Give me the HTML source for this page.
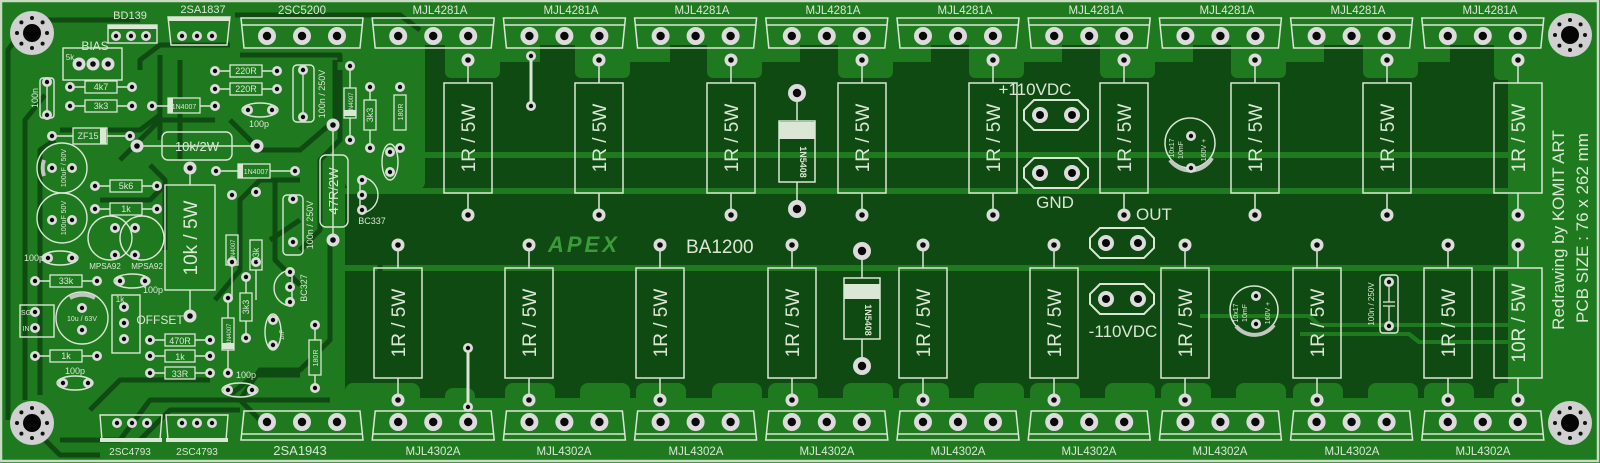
<!DOCTYPE html>
<html><head><meta charset="utf-8"><style>
html,body{margin:0;padding:0;background:#1f7a1f;}
svg{display:block}
text{font-family:"Liberation Sans",sans-serif;fill:#dbe7d5}
</style></head><body>
<svg width="1600" height="463" viewBox="0 0 1600 463" xmlns="http://www.w3.org/2000/svg">
<defs>
  <g id="bp"><circle r="9" fill="#dcdcdc"/><circle r="4.2" fill="#0a0a0a"/></g>
  <g id="sp"><circle r="6.5" fill="#dcdcdc"/><circle r="2.8" fill="#0a0a0a"/></g>
  <g id="xp"><circle r="5" fill="#dcdcdc"/><circle r="2.2" fill="#0a0a0a"/></g>
  <g id="hole"><circle r="22" fill="#d0d0d0"/><circle r="9" fill="#050505"/>
    <circle cx="0" cy="-15" r="2" fill="#111"/><circle cx="0" cy="15" r="2" fill="#111"/><circle cx="-15" cy="0" r="2" fill="#111"/><circle cx="15" cy="0" r="2" fill="#111"/>
    <circle cx="10.6" cy="10.6" r="2" fill="#111"/><circle cx="-10.6" cy="10.6" r="2" fill="#111"/><circle cx="10.6" cy="-10.6" r="2" fill="#111"/><circle cx="-10.6" cy="-10.6" r="2" fill="#111"/></g>
  <g id="tpk">
    <path d="M-61,18 L61,18 L58,48 L-58,48 Z M-60,25 L60,25" fill="none" stroke="#dbe7d5" stroke-width="1.5"/>
    <use href="#bp" x="-35" y="36"/><use href="#bp" x="0" y="36"/><use href="#bp" x="35" y="36"/>
  </g>
  <g id="bpk">
    <path d="M-58,411 L58,411 L61,440 L-61,440 Z M-60,434 L60,434" fill="none" stroke="#dbe7d5" stroke-width="1.5"/>
    <use href="#bp" x="-35" y="422"/><use href="#bp" x="0" y="422"/><use href="#bp" x="35" y="422"/>
  </g>
  <g id="tr">
    <path d="M0,60 V83 M0,193 V215" stroke="#dbe7d5" stroke-width="1.5"/>
    <rect x="-24" y="83" width="48" height="110" fill="none" stroke="#dbe7d5" stroke-width="1.5"/>
    <use href="#sp" x="0" y="60"/><use href="#sp" x="0" y="215"/>
  </g>
  <g id="br">
    <path d="M0,245 V268 M0,378 V400" stroke="#dbe7d5" stroke-width="1.5"/>
    <rect x="-24" y="268" width="48" height="110" fill="none" stroke="#dbe7d5" stroke-width="1.5"/>
    <use href="#sp" x="0" y="245"/><use href="#sp" x="0" y="400"/>
  </g>
  <g id="conn">
    <path d="M-22,-15 H22 L32,-5 V5 L22,15 H-22 L-32,5 V-5 Z" fill="none" stroke="#dbe7d5" stroke-width="2"/>
    <circle cx="-16" r="8" fill="#dcdcdc"/><circle cx="-16" r="4" fill="#050505"/>
    <circle cx="16" r="8" fill="#dcdcdc"/><circle cx="16" r="4" fill="#050505"/>
  </g>
</defs>

<rect width="1600" height="463" fill="#1f7a1f"/>
<path d="M345,62 H1508 V398 H345 Z" fill="#0e4a11"/>
<g fill="#1f7a1f">
  <rect x="445" y="40" width="55" height="38" rx="6"/>
  <rect x="575" y="40" width="55" height="38" rx="6"/>
  <rect x="707" y="40" width="55" height="38" rx="6"/>
  <rect x="838" y="40" width="55" height="38" rx="6"/>
  <rect x="969" y="40" width="55" height="38" rx="6"/>
  <rect x="1100" y="40" width="55" height="38" rx="6"/>
  <rect x="1231" y="40" width="55" height="38" rx="6"/>
  <rect x="1363" y="40" width="55" height="38" rx="6"/>
  <rect x="1494" y="40" width="50" height="40" rx="6"/>
  <rect x="345" y="40" width="80" height="150" rx="8"/>
  <rect x="1508" y="60" width="90" height="345"/>
</g>
<g fill="#0e4a11">
  <rect x="425" y="45" width="20" height="30"/>
  <rect x="540" y="45" width="35" height="30"/>
  <rect x="670" y="45" width="37" height="30"/>
  <rect x="800" y="45" width="38" height="30"/>
  <rect x="931" y="45" width="38" height="30"/>
  <rect x="1062" y="45" width="38" height="30"/>
  <rect x="1193" y="45" width="38" height="30"/>
  <rect x="1324" y="45" width="39" height="30"/>
  <rect x="1450" y="45" width="44" height="25"/>
</g>
<g fill="#1f7a1f">
  <rect x="345" y="383" width="75" height="80" rx="8"/>
  <rect x="445" y="388" width="30" height="75" rx="8"/>
  <rect x="505" y="383" width="50" height="80" rx="8"/>
  <rect x="580" y="383" width="50" height="80" rx="8"/>
  <rect x="636" y="383" width="50" height="80" rx="8"/>
  <rect x="712" y="383" width="50" height="80" rx="8"/>
  <rect x="768" y="383" width="50" height="80" rx="8"/>
  <rect x="843" y="383" width="50" height="80" rx="8"/>
  <rect x="899" y="383" width="50" height="80" rx="8"/>
  <rect x="974" y="383" width="50" height="80" rx="8"/>
  <rect x="1030" y="383" width="50" height="80" rx="8"/>
  <rect x="1105" y="383" width="50" height="80" rx="8"/>
  <rect x="1161" y="383" width="50" height="80" rx="8"/>
  <rect x="1236" y="383" width="50" height="80" rx="8"/>
  <rect x="1293" y="383" width="50" height="80" rx="8"/>
  <rect x="1368" y="383" width="50" height="80" rx="8"/>
  <rect x="1424" y="383" width="50" height="80" rx="8"/>
  <rect x="1494" y="383" width="50" height="80" rx="8"/>
</g>
<g fill="#1f7a1f">
  <rect x="410" y="152" width="1100" height="6"/>
  <rect x="335" y="188" width="1175" height="6"/>
  <rect x="335" y="265" width="1175" height="6"/>
  <path d="M1200,314 H1310 L1320,323 H1508 V327 H1318 L1308,318 H1200 Z"/>
  <path d="M1300,332 H1410 L1420,340 H1508 V344 H1418 L1408,336 H1300 Z"/>
</g>
<g fill="none" stroke="#0e4a11" stroke-width="5" stroke-linejoin="round">
  <path d="M8,420 V50 L30,20 H140"/>
  <path d="M25,400 V120 L45,95"/>
  <path d="M40,395 L40,150 L55,140"/>
  <path d="M60,440 L120,440 L150,400 H330"/>
  <path d="M90,410 L120,380 H210"/>
  <path d="M165,250 V180 L150,165"/>
  <path d="M140,70 V60 L160,45 H230"/>
  <path d="M235,15 H400 L420,30"/>
  <path d="M160,55 V140"/>
  <path d="M180,60 V160"/>
  <path d="M230,120 L260,150 H300 L335,120 V60"/>
  <path d="M215,300 L240,270 V200 L260,180 H300"/>
  <path d="M300,250 L320,230 V160 L340,140 V70"/>
  <path d="M260,420 L240,400 L260,370 H300 L330,340 V240"/>
  <path d="M350,330 L380,300 V240"/>
  <path d="M140,440 L170,410 H240"/>
  <path d="M100,200 H150 L165,185"/>
  <path d="M270,240 L300,220"/>
  <path d="M240,55 H340 V62"/>
  <path d="M60,130 H140 L160,115"/>
  <path d="M15,410 L60,455 H100"/>
  <path d="M230,395 L255,375 L300,375"/>
  <path d="M275,180 V260 L300,285"/>
  <path d="M120,160 L160,120 H215"/>
</g>
<rect x="1" y="1" width="1597" height="460" fill="none" stroke="#c8dcc4" stroke-width="2.5"/>

<use href="#hole" x="32" y="33"/><use href="#hole" x="32" y="423"/>
<use href="#hole" x="1570" y="35"/><use href="#hole" x="1570" y="423"/>

<use href="#tpk" x="302"/><use href="#tpk" x="433.2"/><use href="#tpk" x="564.4"/><use href="#tpk" x="695.6"/><use href="#tpk" x="826.8"/>
<use href="#tpk" x="958"/><use href="#tpk" x="1089.2"/><use href="#tpk" x="1220.4"/><use href="#tpk" x="1351.6"/><use href="#tpk" x="1482.8"/>
<g font-size="11.5" text-anchor="middle">
<text x="302" y="14">2SC5200</text><text x="440" y="14">MJL4281A</text><text x="571" y="14">MJL4281A</text><text x="702" y="14">MJL4281A</text><text x="833" y="14">MJL4281A</text>
<text x="965" y="14">MJL4281A</text><text x="1096" y="14">MJL4281A</text><text x="1227" y="14">MJL4281A</text><text x="1358" y="14">MJL4281A</text><text x="1490" y="14">MJL4281A</text>
</g>
<use href="#bpk" x="302"/><use href="#bpk" x="433.2"/><use href="#bpk" x="564.4"/><use href="#bpk" x="695.6"/><use href="#bpk" x="826.8"/>
<use href="#bpk" x="958"/><use href="#bpk" x="1089.2"/><use href="#bpk" x="1220.4"/><use href="#bpk" x="1351.6"/><use href="#bpk" x="1482.8"/>
<g font-size="11.5" text-anchor="middle">
<text x="300" y="455" font-size="13">2SA1943</text><text x="433" y="455">MJL4302A</text><text x="564" y="455">MJL4302A</text><text x="696" y="455">MJL4302A</text><text x="827" y="455">MJL4302A</text>
<text x="958" y="455">MJL4302A</text><text x="1089" y="455">MJL4302A</text><text x="1220" y="455">MJL4302A</text><text x="1352" y="455">MJL4302A</text><text x="1483" y="455">MJL4302A</text>
</g>

<use href="#tr" x="468"/><use href="#tr" x="599"/><use href="#tr" x="731"/><use href="#tr" x="862"/><use href="#tr" x="993"/>
<use href="#tr" x="1124"/><use href="#tr" x="1255"/><use href="#tr" x="1387"/><use href="#tr" x="1518"/>
<g font-size="19" text-anchor="middle">
<text transform="translate(475,138) rotate(-90)">1R / 5W</text>
<text transform="translate(606,138) rotate(-90)">1R / 5W</text>
<text transform="translate(738,138) rotate(-90)">1R / 5W</text>
<text transform="translate(869,138) rotate(-90)">1R / 5W</text>
<text transform="translate(1000,138) rotate(-90)">1R / 5W</text>
<text transform="translate(1131,138) rotate(-90)">1R / 5W</text>
<text transform="translate(1262,138) rotate(-90)">1R / 5W</text>
<text transform="translate(1394,138) rotate(-90)">1R / 5W</text>
<text transform="translate(1525,138) rotate(-90)">1R / 5W</text>
</g>
<use href="#br" x="398"/><use href="#br" x="529"/><use href="#br" x="660"/><use href="#br" x="792"/><use href="#br" x="923"/>
<use href="#br" x="1054"/><use href="#br" x="1185"/><use href="#br" x="1317"/><use href="#br" x="1448"/><use href="#br" x="1518"/>
<g font-size="19" text-anchor="middle">
<text transform="translate(405,323) rotate(-90)">1R / 5W</text>
<text transform="translate(536,323) rotate(-90)">1R / 5W</text>
<text transform="translate(667,323) rotate(-90)">1R / 5W</text>
<text transform="translate(799,323) rotate(-90)">1R / 5W</text>
<text transform="translate(930,323) rotate(-90)">1R / 5W</text>
<text transform="translate(1061,323) rotate(-90)">1R / 5W</text>
<text transform="translate(1192,323) rotate(-90)">1R / 5W</text>
<text transform="translate(1324,323) rotate(-90)">1R / 5W</text>
<text transform="translate(1455,323) rotate(-90)">1R / 5W</text>
<text transform="translate(1525,323) rotate(-90)">10R / 5W</text>
</g>

<g stroke="#dbe7d5" stroke-width="3"><path d="M531,56 V106"/><path d="M468,348 V407"/></g>
<use href="#xp" x="531" y="56"/><use href="#xp" x="531" y="106"/><use href="#xp" x="468" y="348"/><use href="#xp" x="468" y="407"/>

<g stroke="#dbe7d5" stroke-width="1.5" fill="none">
  <path d="M797,93 V121 M797,182 V209"/><rect x="779" y="121" width="36" height="61"/>
  <path d="M862,251 V278 M862,339 V366"/><rect x="844" y="278" width="36" height="61"/>
</g>
<rect x="779" y="122" width="36" height="17" fill="#dbe7d5"/>
<rect x="844" y="284" width="36" height="15" fill="#dbe7d5"/>
<use href="#bp" x="797" y="93"/><use href="#bp" x="797" y="209"/><use href="#bp" x="862" y="251"/><use href="#bp" x="862" y="366"/>
<g font-size="9" font-weight="bold" text-anchor="middle">
<text transform="translate(800,162) rotate(90)">1N5408</text>
<text transform="translate(865,320) rotate(90)">1N5408</text>
</g>

<text x="548" y="252" font-size="22" font-style="italic" font-weight="bold" style="fill:#3c9a3c;letter-spacing:3px">APEX</text>
<text x="686" y="253" font-size="19">BA1200</text>

<use href="#conn" x="1056" y="115"/><use href="#conn" x="1056" y="173"/>
<use href="#conn" x="1122" y="243"/><use href="#conn" x="1122" y="299"/>
<g font-size="17" text-anchor="middle">
<text x="1035" y="95">+110VDC</text>
<text x="1055" y="208">GND</text>
<text x="1154" y="220">OUT</text>
<text x="1123" y="337">-110VDC</text>
</g>
<g fill="none" stroke="#dbe7d5" stroke-width="1.5">
  <circle cx="1190" cy="143" r="25"/><circle cx="1254" cy="310" r="24"/>
</g>
<path d="M1170,160 A25,25 0 0 0 1212,158" stroke="#c0c8c0" stroke-width="4" fill="none"/>
<path d="M1236,326 A24,24 0 0 0 1274,325" stroke="#c0c8c0" stroke-width="4" fill="none"/>
<use href="#xp" x="1191" y="136"/><use href="#xp" x="1191" y="168"/><use href="#xp" x="1256" y="296"/><use href="#xp" x="1256" y="324"/>
<g font-size="7" text-anchor="middle">
<text transform="translate(1174,148) rotate(-90)">10x17</text>
<text transform="translate(1183,150) rotate(-90)">10mF</text>
<text transform="translate(1206,150) rotate(-90)">160V +</text>
<text transform="translate(1238,313) rotate(-90)">10x17</text>
<text transform="translate(1247,313) rotate(-90)">10mF</text>
<text transform="translate(1270,313) rotate(-90)">160V +</text>
</g>
<rect x="1380" y="275" width="18" height="58" rx="3" fill="none" stroke="#dbe7d5" stroke-width="1.5"/>
<path d="M1389,283 V302 M1383,302 H1395 M1383,306 H1395 M1389,306 V325" stroke="#dbe7d5" stroke-width="1.3"/>
<use href="#xp" x="1389" y="282"/><use href="#xp" x="1389" y="326"/>
<text transform="translate(1374,304) rotate(-90)" font-size="8" text-anchor="middle">100n / 250V</text>

<g font-size="17" text-anchor="middle">
<text transform="translate(1564,230) rotate(-90)">Redrawing by KOMIT ART</text>
<text transform="translate(1588,228) rotate(-90)">PCB SIZE : 76 x 262 mm</text>
</g>

<g fill="none" stroke="#dbe7d5" stroke-width="1.4">
  <rect x="108" y="25" width="49" height="18"/>
  <path d="M168,17 H230 L227,45 H171 Z"/>
  <rect x="63" y="48" width="59" height="32"/>
  <rect x="40" y="78" width="14" height="40" rx="3"/>
  <rect x="293" y="65" width="21" height="57" rx="4"/>
  <rect x="283" y="195" width="20" height="60" rx="4"/>
  <rect x="162" y="132" width="70" height="28" rx="6"/>
  <rect x="320" y="155" width="28" height="72" rx="6"/>
  <rect x="165" y="185" width="50" height="105"/>
  <path d="M360,177 A18,18 0 1 1 360,213 Z"/>
  <path d="M292,270 A18,18 0 1 0 292,306 Z"/>
  <circle cx="110" cy="238" r="22"/><circle cx="142" cy="238" r="22"/>
  <circle cx="62" cy="168" r="25"/><circle cx="62" cy="218" r="25"/><circle cx="82" cy="318" r="26"/>
  <rect x="20" y="305" width="34" height="32"/>
  <rect x="112" y="295" width="28" height="58"/>
  <ellipse cx="260" cy="110" rx="18" ry="7"/>
  <ellipse cx="60" cy="258" rx="18" ry="7"/>
  <ellipse cx="132" cy="281" rx="18" ry="7"/>
  <ellipse cx="75" cy="383" rx="18" ry="7"/>
  <ellipse cx="240" cy="390" rx="18" ry="7"/>
  <ellipse cx="273" cy="332" rx="8" ry="18"/>
  <ellipse cx="390" cy="162" rx="8" ry="18"/>
  <path d="M100,415 H162 L160,440 H102 Z"/><path d="M166,415 H228 L226,440 H168 Z"/>
</g>
<rect x="108" y="25" width="49" height="4" fill="#dbe7d5"/>
<rect x="168" y="17" width="62" height="4" fill="#dbe7d5"/>
<rect x="100" y="438" width="62" height="4" fill="#dbe7d5"/><rect x="166" y="438" width="62" height="4" fill="#dbe7d5"/>
<path d="M44,160 A25,25 0 0 0 44,176" stroke="#c0c8c0" stroke-width="4" fill="none"/>
<path d="M70,298 A26,26 0 0 1 95,298" stroke="#c0c8c0" stroke-width="4" fill="none"/>

<g stroke="#dbe7d5" stroke-width="1.4">
  <path d="M70,87 H132 M70,106 H132 M152,106 H215 M215,71 H277 M215,89 H277 M52,136 H130 M137,146 H257 M216,171 H295 M95,186 H157 M95,209 H157 M35,281 H97 M35,356 H97 M150,340 H210 M150,356 H210 M150,373 H210"/>
  <path d="M47,82 V115 M303,70 V117 M350,66 V140 M370,87 V148 M333,125 V240 M232,255 V300 M256,255 V300 M228,298 V373 M246,277 V338 M315,325 V388 M190,168 V185 M190,290 V316"/>
</g>
<g fill="#1f7a1f" stroke="#dbe7d5" stroke-width="1.3">
  <rect x="85" y="81" width="32" height="12"/><rect x="85" y="100" width="32" height="12"/>
  <rect x="230" y="65" width="32" height="12"/><rect x="230" y="83" width="32" height="12"/>
  <rect x="168" y="98" width="32" height="15"/><rect x="73" y="128" width="34" height="16"/>
  <rect x="238" y="164" width="32" height="14"/>
  <rect x="110" y="180" width="32" height="12"/><rect x="110" y="203" width="32" height="12"/>
  <rect x="50" y="275" width="32" height="12"/><rect x="50" y="350" width="32" height="12"/>
  <rect x="165" y="334" width="30" height="12"/><rect x="165" y="350" width="30" height="12"/><rect x="165" y="367" width="30" height="12"/>
  <rect x="344" y="88" width="12" height="30"/><rect x="364" y="100" width="12" height="30"/>
  <rect x="226" y="235" width="12" height="30"/><rect x="250" y="240" width="12" height="30"/>
  <rect x="222" y="318" width="12" height="32"/><rect x="240" y="293" width="12" height="28"/>
  <rect x="309" y="340" width="12" height="35"/><rect x="394" y="95" width="12" height="35"/>
</g>
<rect x="168" y="98" width="5" height="15" fill="#dbe7d5"/><rect x="238" y="164" width="5" height="14" fill="#dbe7d5"/>
<rect x="344" y="110" width="12" height="6" fill="#dbe7d5"/><rect x="222" y="343" width="12" height="6" fill="#dbe7d5"/>
<rect x="100" y="128" width="6" height="16" fill="#dbe7d5"/>

<g>
<use href="#xp" x="116" y="36"/><use href="#xp" x="131" y="36"/><use href="#xp" x="146" y="36"/>
<use href="#xp" x="182" y="36"/><use href="#xp" x="197" y="36"/><use href="#xp" x="212" y="36"/>
<use href="#sp" x="79" y="64"/><use href="#sp" x="93" y="64"/><use href="#sp" x="108" y="64"/>
<use href="#xp" x="47" y="82"/><use href="#xp" x="47" y="115"/>
<use href="#xp" x="70" y="87"/><use href="#xp" x="132" y="87"/><use href="#xp" x="70" y="106"/><use href="#xp" x="132" y="106"/>
<use href="#xp" x="152" y="106"/><use href="#xp" x="215" y="106"/>
<use href="#xp" x="215" y="71"/><use href="#xp" x="277" y="71"/><use href="#xp" x="215" y="89"/><use href="#xp" x="277" y="89"/>
<use href="#xp" x="248" y="110"/><use href="#xp" x="272" y="110"/>
<use href="#xp" x="303" y="70"/><use href="#xp" x="303" y="117"/>
<use href="#xp" x="350" y="66"/><use href="#xp" x="350" y="140"/><use href="#xp" x="370" y="87"/><use href="#xp" x="370" y="148"/>
<use href="#xp" x="400" y="87"/><use href="#xp" x="400" y="148"/>
<use href="#xp" x="52" y="136"/><use href="#xp" x="130" y="136"/>
<use href="#sp" x="137" y="146"/><use href="#sp" x="257" y="146"/>
<use href="#xp" x="216" y="171"/><use href="#xp" x="295" y="171"/>
<use href="#sp" x="333" y="125"/><use href="#sp" x="333" y="240"/>
<use href="#xp" x="362" y="180"/><use href="#xp" x="362" y="195"/><use href="#xp" x="362" y="210"/>
<use href="#xp" x="390" y="152"/><use href="#xp" x="390" y="172"/>
<use href="#xp" x="52" y="168"/><use href="#xp" x="72" y="168"/><use href="#xp" x="52" y="220"/><use href="#xp" x="72" y="220"/>
<use href="#xp" x="95" y="186"/><use href="#xp" x="157" y="186"/><use href="#xp" x="95" y="209"/><use href="#xp" x="157" y="209"/>
<use href="#sp" x="190" y="168"/><use href="#sp" x="190" y="316"/>
<use href="#xp" x="232" y="195"/><use href="#xp" x="256" y="192"/><use href="#xp" x="232" y="262"/><use href="#xp" x="256" y="262"/>
<use href="#xp" x="293" y="199"/><use href="#xp" x="293" y="242"/>
<use href="#xp" x="115" y="228"/><use href="#xp" x="115" y="255"/><use href="#xp" x="135" y="228"/><use href="#xp" x="135" y="255"/>
<use href="#xp" x="48" y="258"/><use href="#xp" x="72" y="258"/><use href="#xp" x="120" y="281"/><use href="#xp" x="145" y="281"/>
<use href="#xp" x="35" y="281"/><use href="#xp" x="97" y="281"/><use href="#xp" x="35" y="356"/><use href="#xp" x="97" y="356"/>
<use href="#xp" x="35" y="312"/><use href="#xp" x="35" y="328"/><use href="#xp" x="82" y="308"/><use href="#xp" x="82" y="330"/>
<use href="#xp" x="124" y="307"/><use href="#xp" x="124" y="323"/><use href="#xp" x="124" y="339"/>
<use href="#xp" x="150" y="340"/><use href="#xp" x="210" y="340"/><use href="#xp" x="150" y="356"/><use href="#xp" x="210" y="356"/><use href="#xp" x="150" y="373"/><use href="#xp" x="210" y="373"/>
<use href="#xp" x="228" y="298"/><use href="#xp" x="228" y="373"/><use href="#xp" x="246" y="277"/><use href="#xp" x="246" y="338"/>
<use href="#xp" x="290" y="272"/><use href="#xp" x="290" y="287"/><use href="#xp" x="290" y="302"/>
<use href="#xp" x="273" y="320"/><use href="#xp" x="273" y="345"/><use href="#xp" x="315" y="325"/><use href="#xp" x="315" y="388"/>
<use href="#xp" x="63" y="383"/><use href="#xp" x="88" y="383"/><use href="#xp" x="228" y="390"/><use href="#xp" x="252" y="390"/>
<use href="#xp" x="117" y="423"/><use href="#xp" x="132" y="423"/><use href="#xp" x="147" y="423"/>
<use href="#xp" x="182" y="423"/><use href="#xp" x="197" y="423"/><use href="#xp" x="212" y="423"/>
</g>

<g font-size="9" text-anchor="middle">
<text x="130" y="19" font-size="11">BD139</text>
<text x="203" y="13" font-size="11">2SA1837</text>
<text x="95" y="50" font-size="12">BIAS</text>
<text x="70" y="60" font-size="8">5k</text>
<text x="101" y="90">4k7</text><text x="101" y="109">3k3</text>
<text x="184" y="109" font-size="7">1N4007</text>
<text x="246" y="74">220R</text><text x="246" y="92">220R</text>
<text x="259" y="127">100p</text>
<text x="88" y="139">ZF15</text>
<text x="197" y="151" font-size="13">10k/2W</text>
<text x="256" y="174" font-size="7">1N4007</text>
<text x="126" y="189">5k6</text><text x="126" y="212">1k</text>
<text x="66" y="284">33k</text><text x="66" y="359">1k</text>
<text x="180" y="344">470R</text><text x="180" y="360">1k</text><text x="180" y="377">33R</text>
<text x="75" y="374">100p</text><text x="246" y="378">100p</text>
<text x="34" y="261">100p</text><text x="153" y="293">100p</text>
<text x="105" y="269" font-size="8">MPSA92</text><text x="147" y="269" font-size="8">MPSA92</text>
<text x="120" y="302" font-size="8">1k</text>
<text x="160" y="324" font-size="12">OFFSET</text>
<text x="82" y="321" font-size="7">10u / 63V</text>
<text x="372" y="224">BC337</text>
<text x="130" y="455" font-size="10">2SC4793</text><text x="197" y="455" font-size="10">2SC4793</text>
<text x="26" y="315" font-size="7">SG</text><text x="26" y="331" font-size="7">IN</text>
</g>
<g font-size="9" text-anchor="middle">
<text transform="translate(38,98) rotate(-90)">100n</text>
<text transform="translate(325,94) rotate(-90)">100n / 250V</text>
<text transform="translate(313,225) rotate(-90)">100n / 250V</text>
<text transform="translate(353,103) rotate(-90)" font-size="6">1N4007</text>
<text transform="translate(373,115) rotate(-90)">3k3</text>
<text transform="translate(403,112) rotate(-90)" font-size="7">180R</text>
<text transform="translate(338,191) rotate(-90)" font-size="13">47R/2W</text>
<text transform="translate(197,238) rotate(-90)" font-size="19">10k / 5W</text>
<text transform="translate(235,250) rotate(-90)" font-size="6">1N4007</text>
<text transform="translate(259,255) rotate(-90)">33k</text>
<text transform="translate(231,334) rotate(-90)" font-size="6">1N4007</text>
<text transform="translate(249,307) rotate(-90)">3k3</text>
<text transform="translate(318,358) rotate(-90)" font-size="7">180R</text>
<text transform="translate(307,288) rotate(-90)">BC327</text>
<text transform="translate(66,168) rotate(-90)" font-size="7">100uF / 50V</text>
<text transform="translate(66,218) rotate(-90)" font-size="7">100uF 50V</text>
<text transform="translate(284,335) rotate(-90)" font-size="6">1nF</text>
</g>
</svg>
</body></html>
